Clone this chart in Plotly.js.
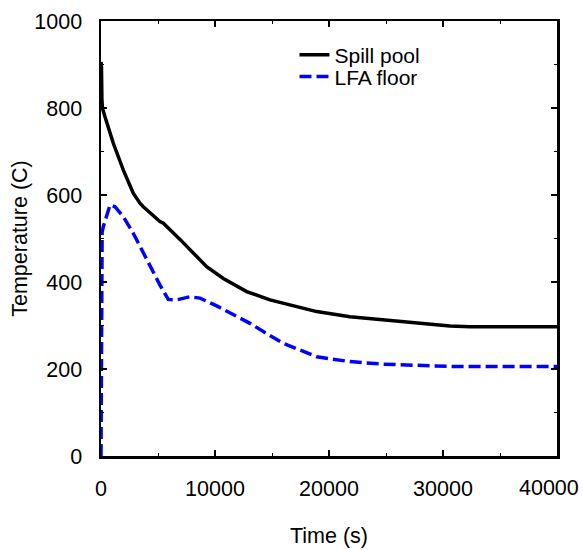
<!DOCTYPE html>
<html>
<head>
<meta charset="utf-8">
<script src="https://cdn.plot.ly/plotly-3.0.1.min.js"></script>
<style>html,body{margin:0;padding:0;background:#fff;}#chart{width:583px;height:550px;}</style>
</head>
<body>
<div id="chart"></div>
<script>
// Spill pool temperature (C) vs time (s)
const spillTime = [0, 40, 80, 120, 350, 1080, 1960, 2830, 3420, 3710, 5175, 5470, 6930, 8390, 9270, 10730, 12780, 14820, 15990, 18920, 21840, 24770, 27690, 30610, 32370, 40000];
const spillTemp = [906, 895, 820, 800, 780, 719, 657, 604, 581, 573, 539, 535, 498, 458, 435, 408, 378, 359, 351, 332, 320, 313, 305, 299, 297, 297];

// LFA floor temperature (C) vs time (s)
const lfaTime = [0, 30, 100, 200, 790, 1230, 1960, 2830, 3420, 4300, 5175, 5900, 6640, 7800, 8680, 10150, 12190, 13070, 14240, 15990, 18920, 21840, 24770, 27690, 30610, 40000];
const lfaTemp = [0, 480, 515, 527, 577, 573, 550, 512, 481, 439, 393, 360, 359, 366, 363, 345, 317, 305, 286, 259, 228, 217, 211, 208, 206, 206];

const seriesNames = ["Spill pool", "LFA floor"];
const xTickVals = [0, 10000, 20000, 30000, 40000];
const xTickText = ["0", "10000", "20000", "30000", ""];
const xLastTickText = "40000";
const yTickVals = [0, 200, 400, 600, 800, 1000];
const yTickText = ["0", "200", "400", "600", "800", "1000"];

const FONT = "Liberation Sans, Arial, sans-serif";
const FS = 21.5;

const traces = [
  {x: spillTime, y: spillTemp, name: seriesNames[0], mode: "lines", legend: "legend",
   line: {color: "#000000", width: 3.5}},
  {x: lfaTime, y: lfaTemp, name: seriesNames[1], mode: "lines", legend: "legend2",
   line: {color: "#0000ff", width: 3.5, dash: "12px,5px"}}
];

const axisCommon = {
  showline: true, linecolor: "#000", linewidth: 2.5, mirror: "allticks",
  ticks: "inside", ticklen: 6, tickwidth: 2, tickcolor: "#000",
  showgrid: false, zeroline: false,
  tickfont: {family: FONT, size: FS, color: "#000"}
};

const legendCommon = {xanchor: "left", yanchor: "top", bgcolor: "rgba(0,0,0,0)",
  font: {family: FONT, size: 21, color: "#000"}, itemwidth: 30};

const layout = {
  width: 583, height: 550,
  margin: {l: 101, r: 26, t: 21, b: 94},
  paper_bgcolor: "#fff", plot_bgcolor: "#fff",
  font: {family: FONT, size: FS, color: "#000"},
  showlegend: true,
  legend: Object.assign({}, legendCommon, {x: 0.4243, y: 0.969}),
  legend2: Object.assign({}, legendCommon, {x: 0.4243, y: 0.9185}),
  xaxis: Object.assign({}, axisCommon, {
    range: [0, 40000], tickmode: "array", tickvals: xTickVals, ticktext: xTickText,
    ticklabelstandoff: 12,
    minor: {dtick: 5000, ticklen: 3, tickwidth: 1, tickcolor: "#000", ticks: "inside"},
    title: {text: "Time (s)", font: {family: FONT, size: FS, color: "#000"}, standoff: 28}
  }),
  yaxis: Object.assign({}, axisCommon, {
    range: [0, 1000], tickmode: "array", tickvals: yTickVals, ticktext: yTickText,
    ticklabelstandoff: 12,
    minor: {dtick: 100, ticklen: 3, tickwidth: 1, tickcolor: "#000", ticks: "inside"},
    title: {text: "Temperature (C)", font: {family: FONT, size: FS, color: "#000"}, standoff: 1}
  }),
  annotations: [
    {xref: "x", yref: "paper", x: xTickVals[4], y: 0, xanchor: "right", yanchor: "top",
     xshift: 24, yshift: -18, showarrow: false, text: xLastTickText,
     font: {family: FONT, size: FS, color: "#000"}}
  ]
};

Plotly.newPlot("chart", traces, layout, {displayModeBar: false, staticPlot: true});
</script>
</body>
</html>
